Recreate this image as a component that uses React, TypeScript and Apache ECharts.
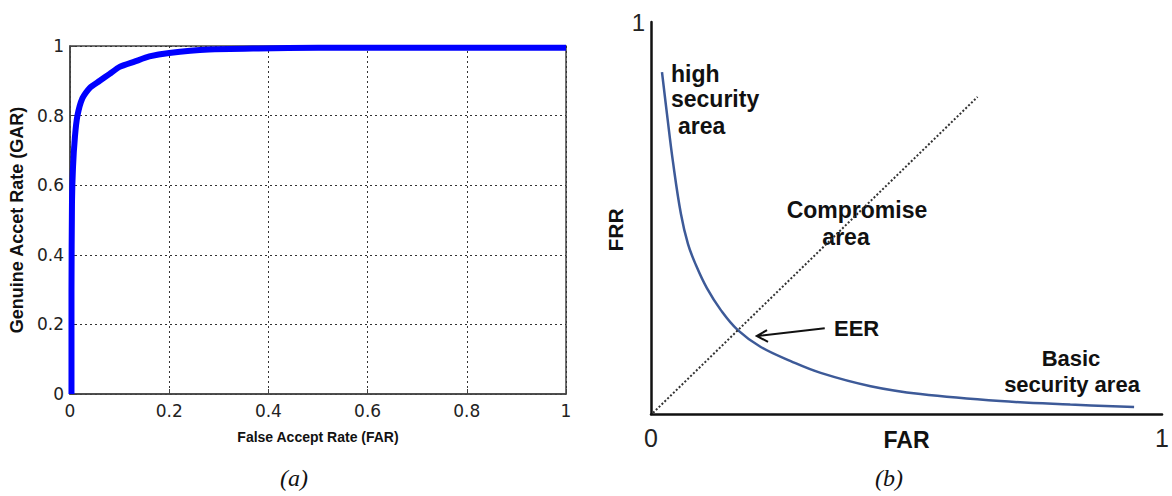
import React, { useEffect, useRef } from "react";
import * as echarts from "echarts";

// (a) ROC curve: FAR vs GAR
const rocFar = [0.003, 0.003, 0.004, 0.006, 0.01, 0.015, 0.025, 0.04, 0.06, 0.08, 0.1, 0.13, 0.16, 0.2, 0.28, 0.38, 0.5, 0.6, 1.0];
const rocGar = [0.0, 0.3, 0.55, 0.65, 0.74, 0.8, 0.85, 0.88, 0.9, 0.92, 0.94, 0.955, 0.97, 0.98, 0.99, 0.993, 0.995, 0.995, 0.995];

// (b) FAR vs FRR trade-off curve
const detFar = [0.0215, 0.0313, 0.043, 0.0586, 0.0723, 0.0879, 0.1094, 0.1367, 0.1699, 0.2148, 0.2734, 0.332, 0.4297, 0.5273, 0.6836, 0.8203, 0.9453];
const detFrr = [0.872, 0.765, 0.643, 0.51, 0.434, 0.38, 0.321, 0.265, 0.214, 0.171, 0.135, 0.105, 0.071, 0.051, 0.033, 0.024, 0.018];

// dotted diagonal (equal error line)
const diagX = [0.004, 0.639];
const diagY = [0.003, 0.809];

// EER arrow: shaft start, tip, upper arm, tip, lower arm
const arrowX = [0.34, 0.207, 0.227, 0.207, 0.229];
const arrowY = [0.219, 0.199, 0.214, 0.199, 0.184];

const leftTicks = [0, 0.2, 0.4, 0.6, 0.8, 1];

const zip = (a: number[], b: number[]) => a.map((v, i) => [v, b[i]]);

const SANS = "Liberation Sans, Arial, sans-serif";

export default function App() {
  const ref = useRef<HTMLDivElement>(null);
  useEffect(() => {
    document.body.style.margin = "0";
    const chart = echarts.init(ref.current!, null, { renderer: "svg" });
    const txt = (text: string, x: number, y: number, size: number, align = "left", extra: any = {}) => ({
      type: "text",
      x,
      y,
      ...extra,
      style: {
        text,
        fontFamily: extra.family || SANS,
        fontSize: size,
        fontWeight: extra.weight || "bold",
        fontStyle: extra.italic ? "italic" : "normal",
        fill: "#111",
        textAlign: align,
        textVerticalAlign: "middle",
        align,
        verticalAlign: "middle",
      },
    });
    chart.setOption({
      animation: false,
      backgroundColor: "#ffffff",
      grid: [
        { left: 70, top: 46, width: 496, height: 348, show: true, borderColor: "#444", borderWidth: 1.5, backgroundColor: "transparent" },
        { left: 651, top: 22, width: 512, height: 392 },
      ],
      xAxis: [
        {
          type: "value",
          gridIndex: 0,
          min: 0,
          max: 1,
          interval: 0.2,
          axisLine: { show: true, lineStyle: { color: "#444", width: 1.5 } },
          axisTick: { show: true, inside: true, length: 5, lineStyle: { color: "#444" } },
          axisLabel: { color: "#222", fontFamily: "DejaVu Sans", fontSize: 17, margin: 8 },
          splitLine: { show: true, lineStyle: { color: "#333", type: [2, 3], width: 1 } },
          name: "False Accept Rate (FAR)",
          nameLocation: "middle",
          nameGap: 36,
          nameMoveOverlap: false,
          nameTextStyle: { fontFamily: SANS, fontWeight: "bold", fontSize: 14, color: "#111" },
        },
        {
          type: "value",
          gridIndex: 1,
          min: 0,
          max: 1,
          interval: 1,
          axisLine: { show: true, lineStyle: { color: "#111", width: 2.5 } },
          axisTick: { show: false },
          axisLabel: { color: "#222", fontFamily: SANS, fontSize: 25, margin: 11 },
          splitLine: { show: false },
          name: "FAR",
          nameLocation: "middle",
          nameGap: 14,
          nameMoveOverlap: false,
          nameTextStyle: { fontFamily: SANS, fontWeight: "bold", fontSize: 23, color: "#111" },
        },
      ],
      yAxis: [
        {
          type: "value",
          gridIndex: 0,
          min: 0,
          max: 1,
          interval: 0.2,
          axisLine: { show: true, lineStyle: { color: "#444", width: 1.5 } },
          axisTick: { show: true, inside: true, length: 5, lineStyle: { color: "#444" } },
          axisLabel: {
            color: "#222",
            fontFamily: "DejaVu Sans",
            fontSize: 17,
            margin: 6,
            formatter: (v: number) => {
              const t = leftTicks.find((k) => Math.abs(k - v) < 1e-9);
              return t === undefined ? "" : String(t);
            },
          },
          splitLine: { show: true, lineStyle: { color: "#333", type: [2, 3], width: 1 } },
          name: "Genuine Accet Rate (GAR)",
          nameLocation: "middle",
          nameGap: 44,
          nameRotate: 90,
          nameMoveOverlap: false,
          nameTextStyle: { fontFamily: SANS, fontWeight: "bold", fontSize: 18, color: "#111" },
        },
        {
          type: "value",
          gridIndex: 1,
          min: 0,
          max: 1,
          interval: 1,
          axisLine: { show: true, lineStyle: { color: "#111", width: 2.5 } },
          axisTick: { show: false },
          axisLabel: {
            color: "#222",
            fontFamily: SANS,
            fontSize: 24,
            margin: 6,
            formatter: (v: number) => (v === 1 ? "1" : ""),
          },
          splitLine: { show: false },
        },
      ],
      series: [
        {
          type: "line",
          xAxisIndex: 0,
          yAxisIndex: 0,
          data: zip(rocFar, rocGar),
          showSymbol: false,
          smooth: 0.2,
          lineStyle: { color: "#0000ff", width: 6 },
          itemStyle: { color: "#0000ff" },
          z: 5,
        },
        {
          type: "line",
          xAxisIndex: 1,
          yAxisIndex: 1,
          data: zip(detFar, detFrr),
          showSymbol: false,
          smooth: 0.4,
          lineStyle: { color: "#3d5a98", width: 2.5 },
          itemStyle: { color: "#3d5a98" },
          clip: false,
        },
        {
          type: "line",
          xAxisIndex: 1,
          yAxisIndex: 1,
          data: zip(diagX, diagY),
          showSymbol: false,
          lineStyle: { color: "#333", width: 2, type: [2, 2] },
          itemStyle: { color: "#333" },
        },
        {
          type: "line",
          xAxisIndex: 1,
          yAxisIndex: 1,
          data: zip(arrowX, arrowY),
          showSymbol: false,
          lineStyle: { color: "#111", width: 2, join: "miter" },
          itemStyle: { color: "#111" },
        },
      ],
      graphic: [
        txt("high", 671, 74, 23),
        txt("security", 671, 99, 23),
        txt("area", 678, 126, 23),
        txt("Compromise", 857, 210, 23, "center"),
        txt("area", 846, 237, 23, "center"),
        txt("EER", 834, 328, 22),
        txt("Basic", 1071, 358, 22, "center"),
        txt("security area", 1072, 384, 22, "center"),
        txt("FRR", 615, 230, 21, "center", { rotation: Math.PI / 2 }),
        txt("(a)", 294, 478, 24, "center", { family: "Liberation Serif, serif", weight: "normal", italic: true }),
        txt("(b)", 889, 478, 24, "center", { family: "Liberation Serif, serif", weight: "normal", italic: true }),
      ],
    });
    return () => chart.dispose();
  }, []);
  return <div ref={ref} style={{ width: 1172, height: 496 }} />;
}
